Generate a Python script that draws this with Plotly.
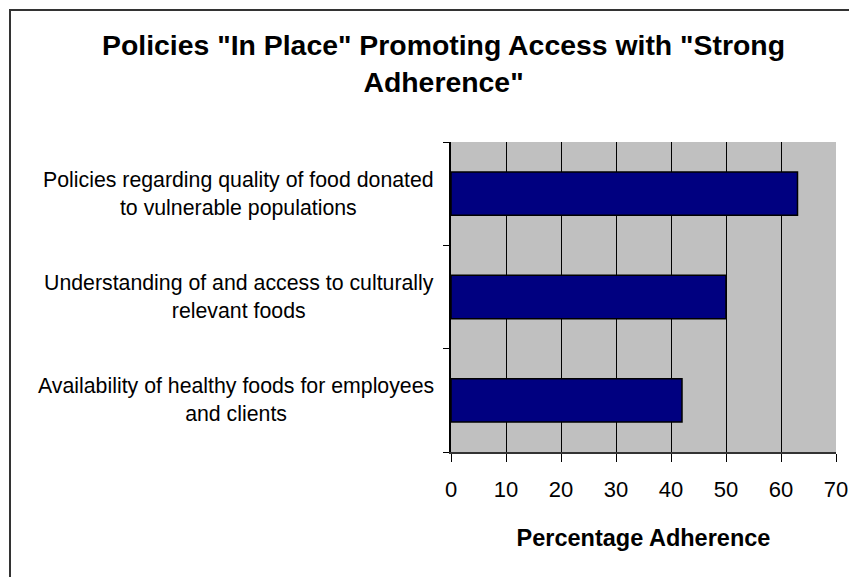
import plotly.graph_objects as go

categories = [
    "Availability of healthy foods for employees<br>and clients",
    "Understanding of and access to culturally<br>relevant foods",
    "Policies regarding quality of food donated<br>to vulnerable populations",
]
values = [42, 50, 63]
x_ticks = [0, 10, 20, 30, 40, 50, 60, 70]
title_text = 'Policies "In Place" Promoting Access with "Strong<br>Adherence"'
x_title = "Percentage Adherence"

# page body has an 8px margin; lay out in page coordinates minus that offset
OFF = 8
W, H = 857 - 2 * OFF, 577 - OFF
L, R, T, B = 451 - OFF, 836 - OFF, 142 - OFF, 452 - OFF

def px_x(p):  # page pixel -> paper x
    return (p - OFF - L) / (R - L)

def px_y(p):  # page pixel -> paper y
    return (B - (p - OFF)) / (B - T)

fig = go.Figure()
fig.add_trace(go.Bar(
    y=categories, x=values, orientation="h", width=0.42,
    marker=dict(color="#000080", line=dict(color="black", width=1.5)),
    showlegend=False, hoverinfo="skip",
))

FONT = "Liberation Sans, Arial, sans-serif"

fig.update_layout(
    width=W, height=H, autosize=False,
    margin=dict(l=L, r=W - R, t=T, b=H - B, pad=0, autoexpand=False),
    paper_bgcolor="white", plot_bgcolor="#C0C0C0",
    font=dict(family=FONT, color="black"),
    bargap=0.58,
)

fig.update_xaxes(
    range=[0, 70], tickvals=x_ticks, ticktext=[str(v) for v in x_ticks],
    showgrid=True, gridcolor="black", gridwidth=1,
    showline=True, linecolor="#333333", linewidth=2,
    ticks="outside", ticklen=8, tickcolor="black", tickwidth=1,
    tickfont=dict(size=22, family=FONT, color="black"),
    ticklabelstandoff=9, ticklabeloverflow="allow",
    zeroline=False,
    title=dict(text="<b>" + x_title + "</b>", font=dict(size=23.5, family=FONT, color="black"), standoff=28),
)
fig.update_yaxes(
    type="category", range=[-0.5, 2.5], tickson="boundaries",
    showticklabels=False, showgrid=False,
    showline=True, linecolor="black", linewidth=1.5,
    ticks="outside", ticklen=6, tickcolor="black", tickwidth=1,
    zeroline=False,
)

# chart title
fig.add_annotation(
    x=px_x(443), xref="paper", y=px_y(64), yref="paper",
    text="<b>" + title_text + "</b>", showarrow=False,
    xanchor="center", yanchor="middle", align="center",
    font=dict(size=28.4, family=FONT, color="black"),
)

for c in categories:
    fig.add_annotation(
        x=px_x(436), xref="paper", y=c, yref="y",
        text=c, showarrow=False, xanchor="right", yanchor="middle", align="center",
        font=dict(size=21.3, family=FONT, color="black"),
    )

# outer chart border
fig.add_shape(type="rect", xref="paper", yref="paper",
              x0=px_x(10), x1=px_x(880),
              y0=px_y(600), y1=px_y(10),
              line=dict(color="#333333", width=2), fillcolor="rgba(0,0,0,0)", layer="above")

fig.write_html("out.html")
